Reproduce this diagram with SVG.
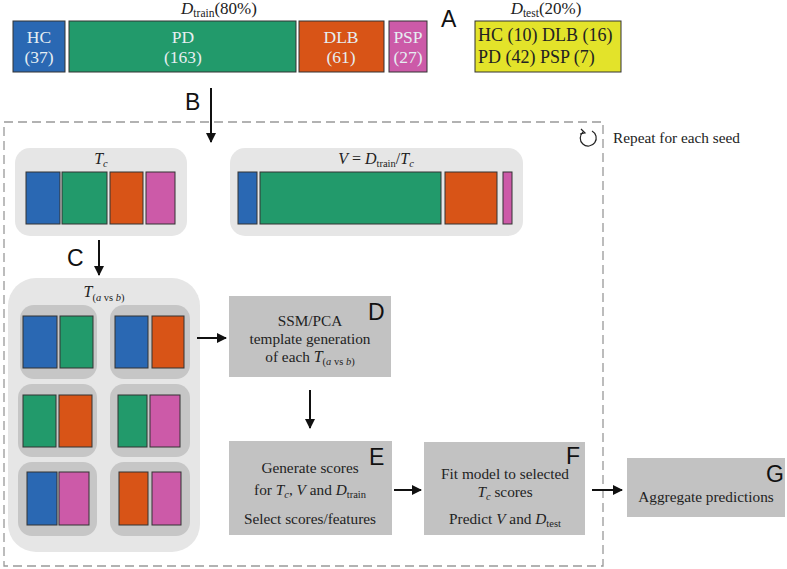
<svg xmlns="http://www.w3.org/2000/svg" width="787" height="569" viewBox="0 0 787 569">
<defs>
<marker id="ah" viewBox="0 0 10 10" refX="9" refY="5" markerWidth="10" markerHeight="10" markerUnits="userSpaceOnUse" orient="auto">
<path d="M0,0 L10,5 L0,10 z" fill="#111"/>
</marker>
<style>
text{font-family:"Liberation Serif","DejaVu Serif",serif;fill:#222}
.lbl{font-family:"Liberation Sans","DejaVu Sans",sans-serif;font-size:23px;fill:#111}
.bartxt{font-size:17.5px;fill:#e6eef2;text-anchor:middle}
.t13{font-size:15.3px;text-anchor:middle}
.cal{font-style:italic}
.sub{font-size:10.5px}
.bar{stroke:#333;stroke-width:1}
.blue{fill:#2a68b3}.green{fill:#229a6b}.orange{fill:#d85417}.pink{fill:#cc5aa8}
.light{fill:#e6e6e6}
.sub2{fill:#c6c6c6}
.step{fill:#c2c2c2}
.conn{stroke:#111;stroke-width:2;fill:none;marker-end:url(#ah)}
</style>
</defs>

<g id="train">
<text x="219" y="14" font-size="17" text-anchor="middle"><tspan class="cal">D</tspan><tspan font-size="11.5" dy="3">train</tspan><tspan dy="-3">(80%)</tspan></text>
<rect class="bar blue" x="13" y="21" width="52" height="51"/>
<rect class="bar green" x="69" y="21" width="227" height="51"/>
<rect class="bar orange" x="299" y="21" width="85" height="51"/>
<rect class="bar pink" x="389" y="21" width="38" height="51"/>
<text class="bartxt" x="39" y="43">HC</text><text class="bartxt" x="39" y="63">(37)</text>
<text class="bartxt" x="183" y="43">PD</text><text class="bartxt" x="183" y="63">(163)</text>
<text class="bartxt" x="341" y="43">DLB</text><text class="bartxt" x="341" y="63">(61)</text>
<text class="bartxt" x="408" y="43">PSP</text><text class="bartxt" x="408" y="63">(27)</text>
<text class="lbl" x="441" y="27">A</text>
</g>

<g id="test">
<text x="546" y="14" font-size="17" text-anchor="middle"><tspan class="cal">D</tspan><tspan font-size="11.5" dy="3">test</tspan><tspan dy="-3">(20%)</tspan></text>
<rect x="475" y="21" width="146" height="51" fill="#e3e32a" stroke="#333" stroke-width="1"/>
<text x="478" y="41" font-size="18">HC (10) DLB (16)</text>
<text x="478" y="63" font-size="18">PD (42) PSP (7)</text>
</g>

<rect x="4" y="122" width="599" height="444" fill="none" stroke="#999" stroke-width="1.3" stroke-dasharray="9,5"/>

<g id="repeat">
<path d="M583,132 A8,8 0 1 0 592,131" fill="none" stroke="#222" stroke-width="1.2"/>
<path d="M581,129 L585,133 L580,134" fill="none" stroke="#222" stroke-width="1.2"/>
<text x="613" y="143" font-size="15.3">Repeat for each seed</text>
</g>

<g id="Tc">
<rect class="light" x="15" y="148" width="172" height="88" rx="15"/>
<text x="101" y="164" font-size="16" text-anchor="middle"><tspan class="cal">T</tspan><tspan class="sub cal" dy="3">c</tspan></text>
<rect class="bar blue" x="26" y="172" width="34" height="52"/>
<rect class="bar green" x="62" y="172" width="45" height="52"/>
<rect class="bar orange" x="110" y="172" width="33" height="52"/>
<rect class="bar pink" x="146" y="172" width="29" height="52"/>
</g>

<g id="V">
<rect class="light" x="230" y="148" width="293" height="88" rx="15"/>
<text x="376" y="164" font-size="16" text-anchor="middle"><tspan class="cal">V</tspan> = <tspan class="cal">D</tspan><tspan font-size="10.5" dy="3">train</tspan><tspan dy="-3">/</tspan><tspan class="cal">T</tspan><tspan class="sub cal" dy="3">c</tspan></text>
<rect class="bar blue" x="238" y="172" width="19" height="52"/>
<rect class="bar green" x="260" y="172" width="181" height="52"/>
<rect class="bar orange" x="445" y="172" width="52" height="52"/>
<rect class="bar pink" x="503" y="172" width="9" height="52"/>
</g>

<g id="Tab">
<rect class="light" x="8" y="278" width="192" height="274" rx="28"/>
<text x="104" y="297" font-size="16" text-anchor="middle"><tspan class="cal">T</tspan><tspan font-size="10.5" dy="4">(<tspan class="cal">a</tspan> vs <tspan class="cal">b</tspan>)</tspan></text>
<rect class="sub2" x="20" y="305" width="77" height="74" rx="14"/>
<rect class="sub2" x="110" y="305" width="80" height="74" rx="14"/>
<rect class="sub2" x="18" y="384" width="79" height="73" rx="14"/>
<rect class="sub2" x="110" y="384" width="80" height="73" rx="14"/>
<rect class="sub2" x="18" y="462" width="79" height="74" rx="14"/>
<rect class="sub2" x="110" y="462" width="80" height="74" rx="14"/>
<rect class="bar blue" x="23" y="316" width="34" height="52"/>
<rect class="bar green" x="60" y="316" width="33" height="52"/>
<rect class="bar blue" x="115" y="316" width="33" height="52"/>
<rect class="bar orange" x="152" y="316" width="32" height="52"/>
<rect class="bar green" x="23" y="395" width="33" height="52"/>
<rect class="bar orange" x="59" y="395" width="33" height="52"/>
<rect class="bar green" x="118" y="395" width="29" height="52"/>
<rect class="bar pink" x="150" y="395" width="30" height="52"/>
<rect class="bar blue" x="27" y="472" width="30" height="53"/>
<rect class="bar pink" x="59" y="472" width="30" height="53"/>
<rect class="bar orange" x="119" y="472" width="29" height="53"/>
<rect class="bar pink" x="152" y="472" width="29" height="53"/>
</g>

<g id="D">
<rect class="step" x="229" y="296" width="162" height="81"/>
<text class="lbl" x="368" y="320">D</text>
<text class="t13" x="310" y="326">SSM/PCA</text>
<text class="t13" x="310" y="344">template generation</text>
<text class="t13" x="310" y="362">of each <tspan class="cal" font-size="16">T</tspan><tspan font-size="10.5" dy="3">(<tspan class="cal">a</tspan> vs <tspan class="cal">b</tspan>)</tspan></text>
</g>

<g id="E">
<rect class="step" x="229" y="441" width="163" height="94"/>
<text class="lbl" x="369" y="465">E</text>
<text class="t13" x="310" y="473">Generate scores</text>
<text class="t13" x="310" y="495">for <tspan class="cal">T</tspan><tspan class="sub cal" dy="3">c</tspan><tspan dy="-3">, </tspan><tspan class="cal">V</tspan> and <tspan class="cal">D</tspan><tspan font-size="10.5" dy="3">train</tspan></text>
<text class="t13" x="310" y="524">Select scores/features</text>
</g>

<g id="F">
<rect class="step" x="424" y="442" width="161" height="93"/>
<text class="lbl" x="566" y="464">F</text>
<text class="t13" x="505" y="479">Fit model to selected</text>
<text class="t13" x="505" y="497"><tspan class="cal">T</tspan><tspan class="sub cal" dy="3">c</tspan><tspan dy="-3"> scores</tspan></text>
<text class="t13" x="505" y="524">Predict <tspan class="cal">V</tspan> and <tspan class="cal">D</tspan><tspan font-size="10.5" dy="3">test</tspan></text>
</g>

<g id="G">
<rect class="step" x="627" y="458" width="158" height="59"/>
<text class="lbl" x="766" y="482">G</text>
<text class="t13" x="706" y="502">Aggregate predictions</text>
</g>

<g id="connectors">
<line class="conn" x1="211" y1="88" x2="211" y2="142"/>
<text class="lbl" x="185" y="110">B</text>
<line class="conn" x1="99" y1="240" x2="99" y2="275"/>
<text class="lbl" x="67" y="266">C</text>
<line class="conn" x1="197" y1="338" x2="226" y2="338"/>
<line class="conn" x1="310" y1="390" x2="310" y2="428"/>
<line class="conn" x1="394" y1="490" x2="421" y2="490"/>
<line class="conn" x1="592" y1="490" x2="622" y2="490"/>
</g>
</svg>
